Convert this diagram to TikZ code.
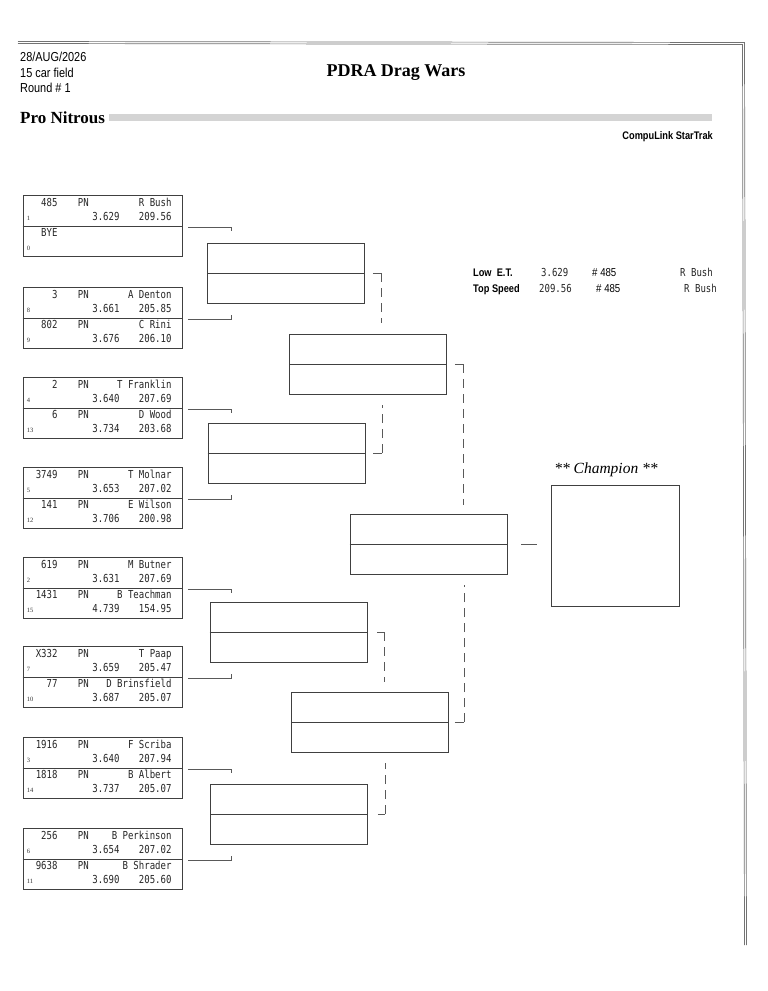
\documentclass[tikz,border=0pt]{standalone}
\usepackage{fontspec}
\setmainfont{Liberation Serif}
\newfontfamily\monof[FakeStretch=0.82]{DejaVu Sans Mono}
\newfontfamily\condf[FakeStretch=0.84]{Liberation Sans}
\usetikzlibrary{calc}
\tikzset{
  rbox/.style={draw=black!75, line width=0.6pt, minimum width=159pt, minimum height=61pt, inner sep=0pt},
  wbox/.style={draw=black!75, line width=0.6pt, minimum width=157pt, minimum height=60pt, inner sep=0pt},
  champbox/.style={draw=black!75, line width=0.6pt, minimum width=128pt, minimum height=121pt, inner sep=0pt},
  divline/.style={draw=black!75, line width=0.6pt},
  conn/.style={draw=black!65, line width=0.55pt},
  dconn/.style={draw=black!65, line width=0.55pt, dash pattern=on 9pt off 6pt},
  mono/.style={inner sep=0pt, font=\monof\fontsize{11}{12}\selectfont, text=black!85},
  seedf/.style={inner sep=0pt, font=\fontsize{6.5}{7}\selectfont, text=black!80},
  hdr/.style={inner sep=0pt, font=\condf\fontsize{13}{14}\selectfont},
  stat/.style={inner sep=0pt, font=\condf\fontsize{11.5}{13}\selectfont},
  hdrb/.style={inner sep=0pt, font=\condf\bfseries\fontsize{11}{13}\selectfont},
  frameline/.style={draw=black!55, line width=0.7pt}
}
% #1 box, #2 tag, #3 baseline offset, #4 num, #5 driver, #6 seed, #7 et, #8 speed
\newcommand\racer[8]{%
  \node[mono,anchor=base east] (#1#2num) at ($(#1.north west)+(35,#3)$) {#4};
  \node[mono,anchor=base west] (#1#2cls) at ($(#1.north west)+(55,#3)$) {PN};
  \node[mono,anchor=base east] (#1#2drv) at ($(#1.north west)+(149,#3)$) {#5};
  \node[seedf,anchor=base west] (#1#2seed) at ($(#1.north west)+(4,#3+14.5)$) {#6};
  \node[mono,anchor=base east] (#1#2et) at ($(#1.north west)+(97,#3+14.5)$) {#7};
  \node[mono,anchor=base east] (#1#2spd) at ($(#1.north west)+(149,#3+14.5)$) {#8};
}
\newcommand\roundone[2]{%
  \node[rbox] (#1) at (102.5,#2) {};
  \draw[divline] ($(#1.west)+(0,0.5)$) -- ($(#1.east)+(0,0.5)$);
}
\begin{document}
\begin{tikzpicture}[x=1pt,y=-1pt]
\useasboundingbox (0,0) rectangle (768,991);
\fill[white] (0,0) rectangle (768,991);

% frame (double rule)
\draw[frameline] (18,41.5) -- (744.5,42.5) -- (746.5,945);
\draw[frameline] (18,43.5) -- (742.5,44.5) -- (744.5,945);

% header
\node[hdr,anchor=base west] (date) at (20,61) {28/AUG/2026};
\node[hdr,anchor=base west] (field) at (20,77) {15 car field};
\node[hdr,anchor=base west] (round) at (20,92) {Round \# 1};
\node[inner sep=0pt,anchor=base,font=\bfseries\fontsize{18}{20}\selectfont] (title) at (396,76) {PDRA Drag Wars};
\fill[black!17] (109,114) rectangle (712,121);
\node[inner sep=0pt,anchor=base west,font=\bfseries\fontsize{17}{19}\selectfont] (cls) at (20,123) {Pro Nitrous};
\node[hdrb,anchor=base east] (soft) at (713,139) {CompuLink StarTrak};

% stats
\node[hdrb,anchor=base west] (lowlbl) at (473,276) {Low\ \ E.T.};
\node[mono,anchor=base west] (lowval) at (541,276) {3.629};
\node[stat,anchor=base west] (lownum) at (592,276) {\#\ 485};
\node[mono,anchor=base east] (lowdrv) at (713,276) {R Bush};
\node[hdrb,anchor=base west] (toplbl) at (473,292) {Top Speed};
\node[mono,anchor=base west] (topval) at (539,292) {209.56};
\node[stat,anchor=base west] (topnum) at (596,292) {\#\ 485};
\node[mono,anchor=base east] (topdrv) at (717,292) {R Bush};

% round 1
\roundone{ra}{225.5}
\roundone{rb}{317.5}
\roundone{rc}{407.5}
\roundone{rd}{497.5}
\roundone{re}{587.5}
\roundone{rf}{676.5}
\roundone{rg}{767.5}
\roundone{rh}{858.5}

\racer{ra}{t}{11.5}{485}{R Bush}{1}{3.629}{209.56}
\node[mono,anchor=base east] (rabnum) at ($(ra.north west)+(35,41.5)$) {BYE};
\node[seedf,anchor=base west] (rabseed) at ($(ra.north west)+(4,56)$) {0};

\racer{rb}{t}{11.5}{3}{A Denton}{8}{3.661}{205.85}
\racer{rb}{b}{41.5}{802}{C Rini}{9}{3.676}{206.10}
\racer{rc}{t}{11.5}{2}{T Franklin}{4}{3.640}{207.69}
\racer{rc}{b}{41.5}{6}{D Wood}{13}{3.734}{203.68}
\racer{rd}{t}{11.5}{3749}{T Molnar}{5}{3.653}{207.02}
\racer{rd}{b}{41.5}{141}{E Wilson}{12}{3.706}{200.98}
\racer{re}{t}{11.5}{619}{M Butner}{2}{3.631}{207.69}
\racer{re}{b}{41.5}{1431}{B Teachman}{15}{4.739}{154.95}
\racer{rf}{t}{11.5}{X332}{T Paap}{7}{3.659}{205.47}
\racer{rf}{b}{41.5}{77}{D Brinsfield}{10}{3.687}{205.07}
\racer{rg}{t}{11.5}{1916}{F Scriba}{3}{3.640}{207.94}
\racer{rg}{b}{41.5}{1818}{B Albert}{14}{3.737}{205.07}
\racer{rh}{t}{11.5}{256}{B Perkinson}{6}{3.654}{207.02}
\racer{rh}{b}{41.5}{9638}{B Shrader}{11}{3.690}{205.60}

% round 1 connectors
\foreach \b in {ra,rc,re,rg}{
  \draw[conn] ($(\b.east)+(6,1.5)$) -- ++(43,0) -- ++(0,4);
}
\foreach \b in {rb,rd,rf,rh}{
  \draw[conn] ($(\b.east)+(6,1.5)$) -- ++(43,0) -- ++(0,-4);
}

% round 2
\node[wbox] (qa) at (286,273) {};
\node[wbox] (qb) at (286.5,453) {};
\node[wbox] (qc) at (288.5,632) {};
\node[wbox] (qd) at (289,814) {};
% round 3
\node[wbox] (sa) at (368,364) {};
\node[wbox] (sb) at (370,722) {};
% final
\node[wbox] (fin) at (428.5,544) {};
\foreach \b in {qa,qb,qc,qd,sa,sb,fin}{
  \draw[divline] (\b.west) -- (\b.east);
}
% champion
\node[champbox] (champ) at (615,545.5) {};
\node[inner sep=0pt,anchor=base,font=\itshape\fontsize{15.5}{17}\selectfont] (champlbl) at (606,473) {** Champion **};

% round 2 connectors
\draw[conn] ($(qa.east)+(8,0)$) coordinate (qat) -- ++(8,0) coordinate (qav);
\draw[dconn] (qav) -- ++(0,50);
\draw[conn] ($(qb.east)+(8,0)$) coordinate (qbt) -- ++(9,0) coordinate (qbv);
\draw[dconn] (qbv) -- ++(0,-48);
\draw[conn] ($(qc.east)+(10,0)$) coordinate (qct) -- ++(7,0) coordinate (qcv);
\draw[dconn] (qcv) -- ++(0,50);
\draw[conn] ($(qd.east)+(10,0)$) coordinate (qdt) -- ++(7,0) coordinate (qdv);
\draw[dconn] (qdv) -- ++(0,-51);

% round 3 connectors
\draw[conn] ($(sa.east)+(8,0)$) coordinate (sat) -- ++(8,0) coordinate (sav);
\draw[dconn] (sav) -- ++(0,141);
\draw[conn] ($(sb.east)+(6,0)$) coordinate (sbt) -- ++(9,0) coordinate (sbv);
\draw[dconn] (sbv) -- ++(0,-137);

% final to champion
\draw[conn] ($(fin.east)+(14,0)$) -- ($(fin.east)+(30,0)$);
\end{tikzpicture}
\end{document}
